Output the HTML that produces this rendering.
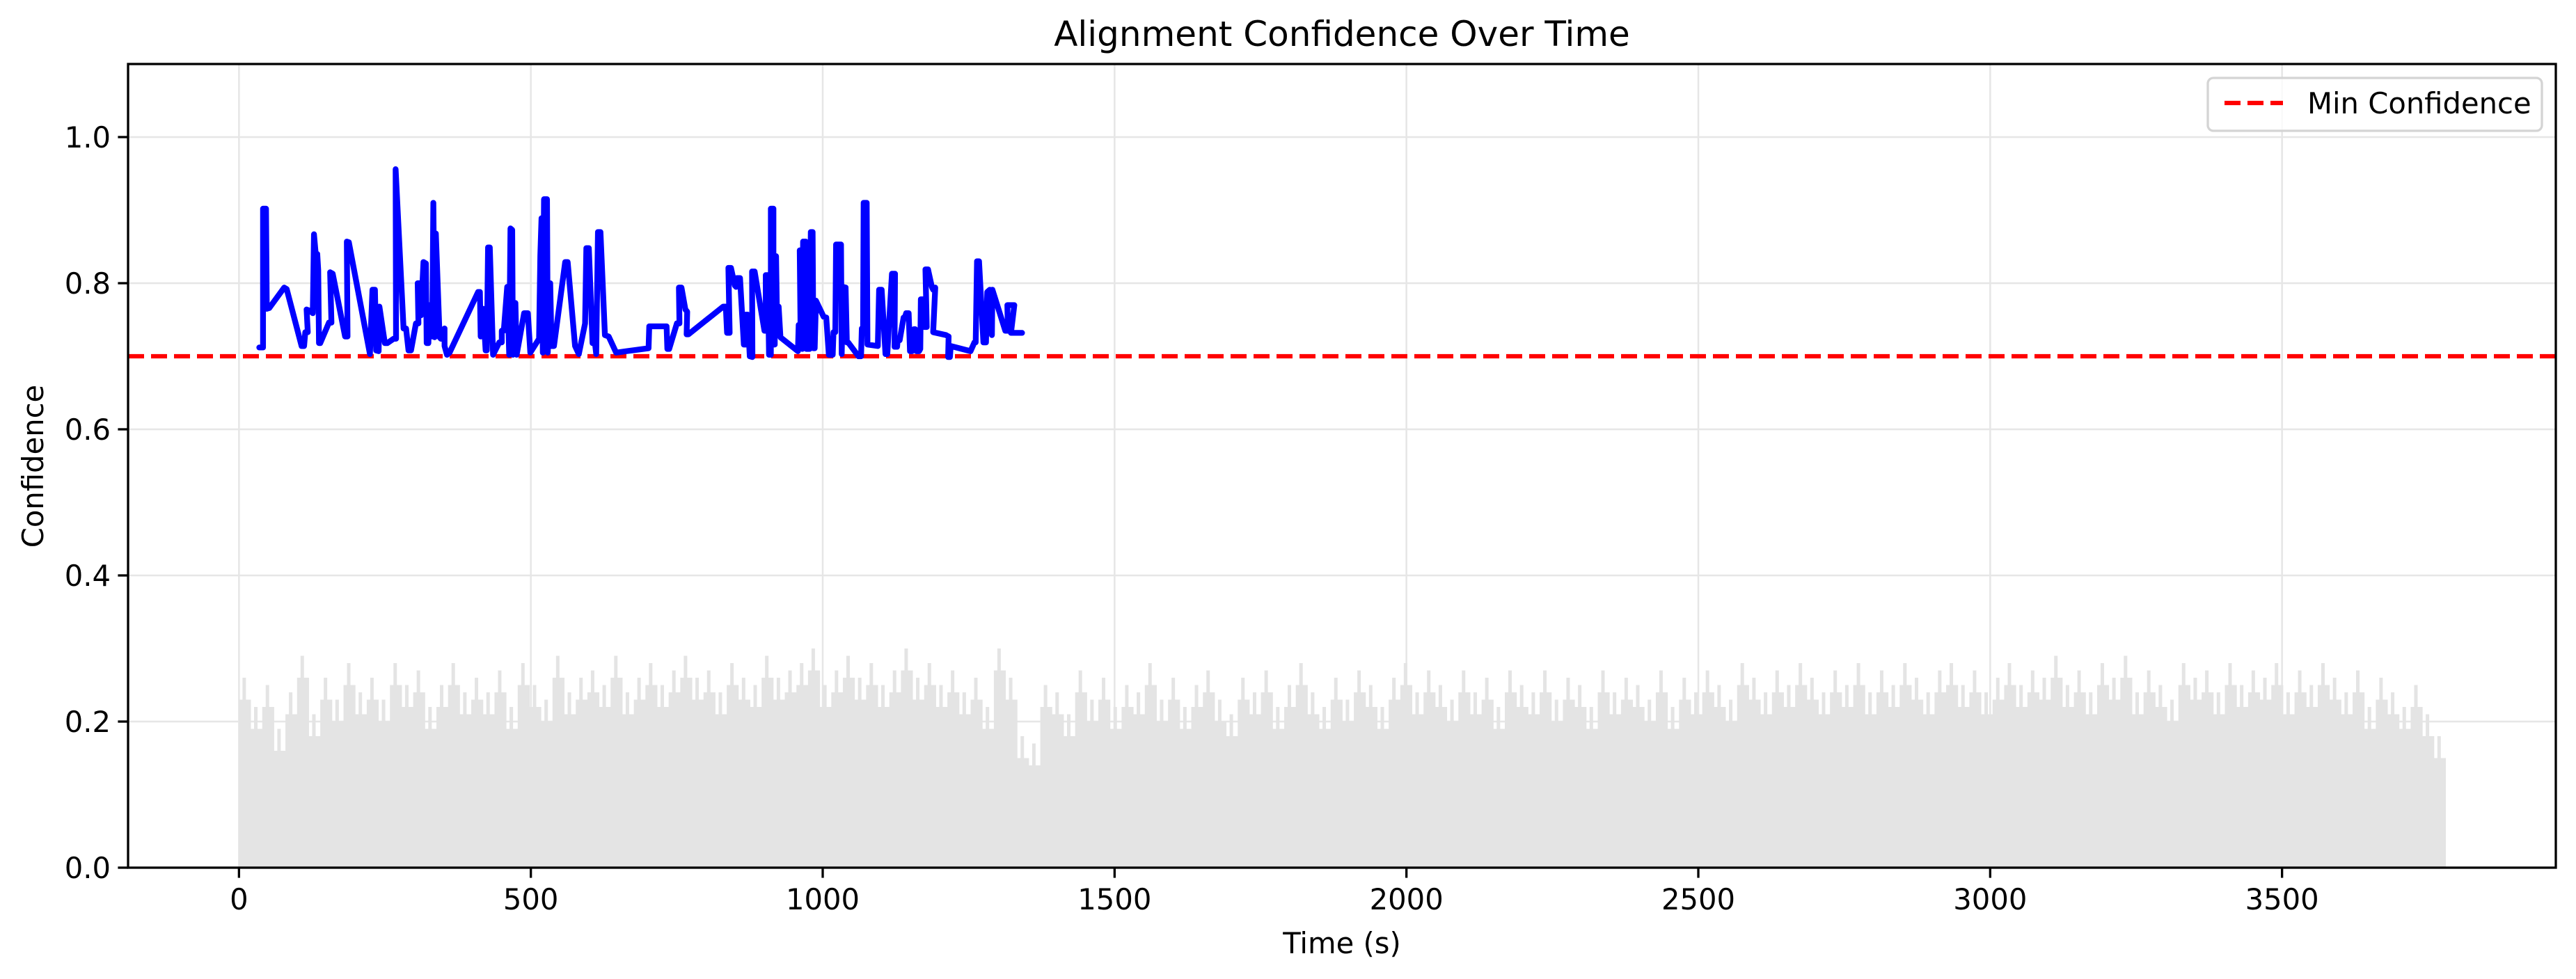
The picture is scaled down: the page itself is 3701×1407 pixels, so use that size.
<!DOCTYPE html>
<html><head><meta charset="utf-8"><style>
html,body{margin:0;padding:0;background:#fff;}
svg{display:block;font-family:"DejaVu Sans","Liberation Sans",sans-serif;}
</style></head><body>
<svg id="chart" width="3701" height="1407" viewBox="0 0 3701 1407" xmlns="http://www.w3.org/2000/svg">
<rect width="3701" height="1407" fill="#fff"/>
<g id="grid"></g>
<g id="bars"></g>
<g id="series"></g>
<g id="axes"></g>
<text x="1928" y="66" text-anchor="middle" font-size="50">Alignment Confidence Over Time</text>
<text x="1928" y="1370" text-anchor="middle" font-size="41.7">Time (s)</text>
<text transform="translate(62,670) rotate(-90)" text-anchor="middle" font-size="41.7">Confidence</text>
<g>
<rect x="3172" y="112" width="480" height="76" rx="8" fill="#fff" fill-opacity="0.8" stroke="#d4d4d4" stroke-width="3.3"/>
<line x1="3196" y1="148" x2="3280" y2="148" stroke="#ff0000" stroke-width="6.25" stroke-dasharray="23,10"/>
<text x="3315" y="163" font-size="41.7">Min Confidence</text>
</g>
</svg>
<script>
const xTicks = [0,500,1000,1500,2000,2500,3000,3500];
const yTicks = [0.0,0.2,0.4,0.6,0.8,1.0];
const yTickLabels = ["0.0","0.2","0.4","0.6","0.8","1.0"];
const minConfidence = 0.7;
const barStart = 0;
const barEnd = 3780;
const barValues = [
.26,.22,.25,.19,.24,.29,.21,.26,.23,.28,.24,.26,.23,.28,.25,.27,.22,.25,.28,.24,
.26,.24,.27,.22,.28,.25,.23,.29,.24,.26,.27,.25,.29,.24,.26,.28,.25,.27,.29,.26,
.27,.24,.28,.26,.25,.29,.26,.27,.28,.30,.25,.27,.29,.26,.28,.25,.27,.30,.26,.28,
.25,.27,.24,.26,.22,.30,.26,.18,.17,.25,.24,.21,.27,.23,.26,.22,.25,.24,.28,.23,
.26,.22,.25,.27,.23,.21,.26,.24,.27,.22,.25,.28,.24,.22,.26,.23,.27,.25,.22,.26,
.28,.24,.27,.25,.23,.27,.24,.26,.22,.27,.25,.24,.27,.23,.26,.25,.22,.27,.24,.26,
.25,.23,.27,.22,.26,.24,.27,.25,.23,.28,.26,.24,.27,.25,.28,.26,.24,.27,.25,.28,
.24,.27,.25,.28,.26,.24,.27,.28,.25,.27,.24,.26,.28,.25,.27,.26,.29,.25,.27,.24,
.28,.26,.29,.24,.27,.25,.23,.28,.26,.27,.24,.28,.25,.27,.26,.28,.24,.27,.25,.28,
.26,.24,.27,.22,.26,.24,.22,.25,.21,.18];
const lineTimes = [34.8,41.2,41.2,46.3,47.6,51.9,77.4,81.7,107.2,111.5,113.6,117.9,115.8,122.1,126.4,128.5,131.5,134.1,135.8,137.1,139.2,154.1,158.4,156.2,160.5,181.8,186.0,184.8,188.2,224.4,228.6,232.9,235.0,239.3,240.6,249.9,254.2,264.9,269.1,268.3,281.9,286.2,290.4,294.7,303.2,307.5,306.2,309.6,311.7,316.0,320.2,321.5,324.5,325.8,330.9,333.0,335.1,337.3,343.7,345.8,352.2,352.2,356.4,360.7,409.7,412.7,414.0,418.2,422.5,424.6,426.7,429.7,435.3,445.9,450.2,450.2,453.6,459.5,462.9,465.1,468.1,469.3,473.6,475.7,488.5,494.9,499.1,514.1,516.2,518.3,520.5,522.6,527.7,529.0,533.2,535.4,539.6,558.8,563.1,575.8,582.2,592.9,595.0,599.3,605.7,609.9,612.0,615.0,619.3,626.9,633.3,646.1,
664.0,701.6,702.9,732.5,733.8,736.9,750.2,754.6,753.7,758.1,764.7,767.8,766.9,770.0,829.6,834.0,836.2,840.6,838.4,842.8,849.4,851.7,853.0,858.3,864.9,868.4,868.4,871.5,875.0,879.5,879.0,883.4,900.2,902.4,902.4,905.9,908.1,911.2,911.2,915.6,915.6,917.8,917.8,920.1,921.4,924.5,927.6,957.6,958.9,962.0,960.7,964.2,965.1,966.4,970.8,972.1,977.4,979.6,982.7,984.0,986.3,988.4,1001.7,1006.1,1010.5,1017.1,1018.5,1021.6,1022.9,1031.3,1032.6,1034.8,1039.2,1041.4,1043.6,1061.3,1065.7,1067.0,1069.2,1070.1,1075.4,1076.7,1094.4,1096.6,1101.0,1107.6,1110.7,1118.6,1123.9,1123.1,1127.5,1128.4,1131.9,1138.5,1140.7,1142.9,1147.3,1149.5,1153.1,1156.2,1158.4,1160.6,1165.0,1167.2,1168.1,1171.6,1173.8,1178.2,1176.0,1180.4,1187.0,1189.2,1192.8,1189.2,1211.3,1215.7,1214.8,1217.9,1219.3,1253.2,1259.9,1262.1,1264.3,1267.8,1275.3,1279.7,1281.9,1286.3,1289.9,1290.7,1312.8,1317.2,1316.3,1328.3,1322.5,1341.5];
const lineConf = [0.712,0.712,0.902,0.902,0.765,0.766,0.794,0.792,0.714,0.714,0.733,0.733,0.764,0.762,0.759,0.867,0.840,0.840,0.818,0.718,0.718,0.746,0.746,0.815,0.813,0.727,0.727,0.857,0.856,0.703,0.791,0.791,0.708,0.707,0.768,0.718,0.718,0.724,0.724,0.956,0.738,0.738,0.708,0.708,0.745,0.745,0.800,0.800,0.756,0.829,0.827,0.718,0.718,0.770,0.727,0.910,0.726,0.868,0.726,0.724,0.738,0.714,0.702,0.705,0.788,0.788,0.727,0.765,0.708,0.708,0.849,0.849,0.702,0.719,0.719,0.735,0.735,0.795,0.702,0.875,0.873,0.702,0.773,0.702,0.759,0.759,0.705,0.724,0.838,0.889,0.705,0.915,0.915,0.705,0.800,0.714,0.714,0.829,0.829,0.714,0.703,0.745,0.848,0.848,0.718,0.718,0.703,0.870,0.870,0.729,0.727,0.705,
0.707,0.711,0.741,0.741,0.710,0.710,0.745,0.745,0.794,0.794,0.764,0.761,0.730,0.730,0.768,0.768,0.732,0.732,0.821,0.821,0.797,0.795,0.807,0.807,0.716,0.716,0.757,0.757,0.700,0.699,0.816,0.816,0.735,0.735,0.811,0.811,0.702,0.702,0.902,0.902,0.716,0.716,0.837,0.837,0.768,0.768,0.726,0.707,0.743,0.743,0.845,0.845,0.710,0.857,0.857,0.710,0.710,0.870,0.870,0.711,0.711,0.776,0.754,0.753,0.702,0.702,0.733,0.733,0.853,0.853,0.703,0.795,0.794,0.719,0.719,0.700,0.700,0.738,0.738,0.910,0.910,0.716,0.714,0.791,0.791,0.703,0.703,0.813,0.813,0.713,0.713,0.722,0.722,0.753,0.753,0.759,0.759,0.707,0.707,0.737,0.737,0.707,0.707,0.710,0.778,0.778,0.740,0.740,0.819,0.819,0.795,0.791,0.794,0.733,0.729,0.727,0.699,0.699,0.714,0.707,0.719,0.719,0.830,0.830,0.719,0.719,0.788,0.791,0.729,0.791,0.735,0.735,0.770,0.770,0.732,0.732];

const NS = "http://www.w3.org/2000/svg";
const L = 184, R = 3672, T = 92, B = 1247;
const xMin = -190, xMax = 3969, yMin = 0, yMax = 1.1;
function xs(v){ return L + (v - xMin) / (xMax - xMin) * (R - L); }
function ys(v){ return B - (v - yMin) / (yMax - yMin) * (B - T); }
function mk(tag, attrs, parent){
  const e = document.createElementNS(NS, tag);
  for (const k in attrs) e.setAttribute(k, attrs[k]);
  parent.appendChild(e);
  return e;
}
const grid = document.getElementById('grid');
const axes = document.getElementById('axes');
const bars = document.getElementById('bars');
const series = document.getElementById('series');

xTicks.forEach(v => {
  const g = mk('line', {x1: xs(v), x2: xs(v), y1: T, y2: B, stroke: '#e6e6e6', 'stroke-width': 2.5}, grid);
  
  
  const t = mk('line', {x1: xs(v), x2: xs(v), y1: B, y2: B + 14.6, stroke: '#000', 'stroke-width': 3.3}, axes);
  
  
  const lb = mk('text', {x: xs(v), y: B + 60, 'text-anchor': 'middle', 'font-size': 41.7}, axes);
  lb.textContent = String(v);
  
  
});
yTicks.forEach((v, i) => {
  const g = mk('line', {x1: L, x2: R, y1: ys(v), y2: ys(v), stroke: '#e6e6e6', 'stroke-width': 2.5}, grid);
  
  
  const t = mk('line', {x1: L - 14.6, x2: L, y1: ys(v), y2: ys(v), stroke: '#000', 'stroke-width': 3.3}, axes);
  
  
  const lb = mk('text', {x: L - 25, y: ys(v) + 15, 'text-anchor': 'end', 'font-size': 41.7}, axes);
  lb.textContent = yTickLabels[i];
  
  
});
const barStep = (barEnd - barStart) / barValues.length;
barValues.forEach((v, i) => {
  const x0 = xs(barStart + i * barStep), x1 = xs(barStart + (i + 1) * barStep);
  const w = x1 - x0;
  const base = mk('rect', {x: x0, y: ys(v - 0.03), width: w + 0.5, height: ys(0) - ys(v - 0.03), fill: '#e4e4e4'}, bars);
  
  
  const spike = mk('rect', {x: x0 + w * 0.3, y: ys(v), width: w * 0.3, height: ys(0) - ys(v), fill: '#e4e4e4'}, bars);
  
  
});
const ml = mk('line', {x1: L, x2: R, y1: ys(minConfidence), y2: ys(minConfidence), stroke: '#ff0000', 'stroke-width': 6.25, 'stroke-dasharray': '23,10'}, series);


const pts = lineTimes.map((t, i) => xs(t).toFixed(1) + ',' + ys(lineConf[i]).toFixed(1)).join(' ');
const pl = mk('polyline', {points: pts, fill: 'none', stroke: '#0000ff', 'stroke-width': 8.3, 'stroke-linejoin': 'round', 'stroke-linecap': 'round'}, series);


const fr = mk('rect', {x: L, y: T, width: R - L, height: B - T, fill: 'none', stroke: '#000', 'stroke-width': 3.3}, axes);


</script>
</body></html>
